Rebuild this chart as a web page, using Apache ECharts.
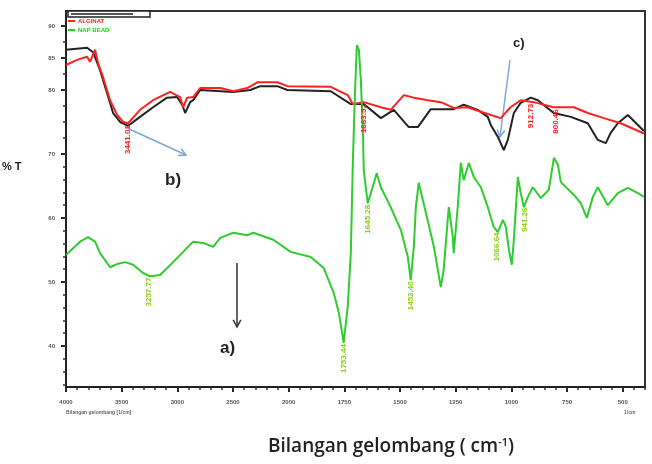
<!DOCTYPE html>
<html><head><meta charset="utf-8">
<script src="https://cdn.jsdelivr.net/npm/echarts@6/dist/echarts.min.js"></script>
<style>html,body{margin:0;padding:0;background:#fff}#c{width:652px;height:464px}</style>
</head><body><div id="c"></div>
<script>
// ---- data (wavenumber cm-1, %T) ----
const blackWave = [4000,3811,3757,3694,3631,3577,3514,3442,3335,3218,3092,3002,2957,2930,2885,2858,2795,2498,2345,2255,2102,2013,1811,1721,1663,1586,1528,1461,1420,1362,1259,1214,1151,1106,1092,1061,1034,1016,989,958,913,881,810,733,657,612,576,554,522,477,405];
const blackT    = [86.3,86.6,85.9,83.1,79.5,76.4,75.0,74.4,75.8,77.3,78.8,78.9,77.7,76.4,78.1,78.4,80.0,79.7,80.0,80.6,80.6,80.0,79.8,77.8,77.8,75.6,76.9,74.2,74.2,77.0,77.0,77.7,76.9,75.8,74.5,72.7,70.6,72.2,76.4,78.0,78.8,78.4,76.4,75.8,74.8,72.2,71.7,73.3,74.8,76.1,73.6];

const redWave = [4000,3901,3811,3784,3739,3712,3667,3604,3541,3487,3442,3335,3218,3065,2975,2948,2912,2858,2795,2615,2498,2372,2282,2102,2013,1811,1735,1712,1663,1586,1542,1483,1438,1375,1317,1259,1196,1137,1048,1004,958,900,810,720,657,585,509,405];
const redT    = [83.9,84.7,85.2,84.4,86.3,84.2,82.0,78.4,76.1,75.0,74.8,76.9,78.4,79.7,78.9,77.3,78.8,78.9,80.3,80.3,79.8,80.3,81.2,81.2,80.6,80.5,79.2,77.8,78.1,77.3,76.9,79.2,78.8,78.4,78.1,77.2,77.3,76.6,75.6,77.3,78.4,78.1,77.3,77.3,76.4,75.6,74.8,73.2];

const greenWave = [4000,3874,3802,3739,3694,3604,3541,3469,3397,3308,3245,3155,3038,2948,2858,2768,2678,2615,2498,2372,2318,2138,1991,1901,1843,1798,1775,1757,1753,1735,1721,1712,1703,1694,1685,1676,1667,1663,1645,1623,1605,1586,1542,1496,1465,1452,1438,1429,1416,1394,1348,1317,1304,1286,1281,1263,1259,1241,1227,1214,1191,1169,1137,1106,1079,1061,1038,1025,1011,998,989,971,958,944,926,904,868,832,809,791,778,719,688,661,634,612,567,522,477,432,405];
const greenT    = [54.2,56.3,57.0,56.3,54.5,52.3,52.8,53.1,52.7,51.4,50.9,51.1,53.1,54.7,56.3,56.1,55.5,56.9,57.7,57.3,57.7,56.6,54.7,53.9,52.2,48.3,45.2,41.4,40.5,46.1,54.5,68.6,78.9,87.0,86.3,81.6,73.8,67.5,62.3,64.8,67.0,64.8,61.7,58.1,53.9,50.3,55.5,61.7,65.5,62.3,55.5,49.2,51.9,59.7,61.7,57.0,54.5,61.7,68.6,65.9,68.6,66.4,64.8,61.7,58.6,57.8,59.7,58.6,55.0,52.7,56.6,66.4,63.9,61.7,63.3,64.8,63.1,64.4,69.4,68.3,65.6,63.6,62.3,60.0,63.3,64.8,62.0,63.9,64.7,63.9,63.3];

const redPeaks   = [3441.01, 1663.52, 912.73, 800.46];
const greenPeaks = [3257.77, 1753.44, 1645.28, 1452.40, 1066.64, 941.26];

const xTicks = [4000,3500,3000,2500,2000,1750,1500,1250,1000,750,500];
const yTicks = [40,50,60,70,80,85,90];
const seriesNames = ['ALGINAT', 'NAP BEAD'];

// ---- helpers ----
// instrument x scale: 500 cm-1 per division above 2000, 250 below
function toU(w){ return w >= 2000 ? (4000 - w) / 500 : 4 + (2000 - w) / 250; }
function interp(ws, ts, w){
  for (let i = 0; i < ws.length - 1; i++) {
    if (w <= ws[i] && w >= ws[i+1]) { const t = (ws[i] - w) / (ws[i] - ws[i+1]); return ts[i] + t * (ts[i+1] - ts[i]); }
  }
  return ts[ts.length - 1];
}
const pts = (ws, ts) => ws.map((w, i) => [toU(w), ts[i]]);
const xMinor = []; for (let u = 0; u <= 10.4001; u += 0.2) xMinor.push(+u.toFixed(2));
const yMinor = []; for (let v = 34; v <= 70; v += 2) yMinor.push(v); for (let v = 72.5; v <= 92; v += 2.5) yMinor.push(v);

function peakSeries(ws, ts, peaks, color){
  return {
    type: 'custom', coordinateSystem: 'cartesian2d', z: 4, silent: true,
    data: peaks.map(w => [toU(w), interp(ws, ts, w), w]),
    renderItem: (p, api) => {
      const c = api.coord([api.value(0), api.value(1)]);
      return { type: 'text', x: c[0], y: c[1] + 2, rotation: Math.PI / 2,
        style: { text: api.value(2).toFixed(2), fill: color, font: 'bold 8px "Liberation Sans"', align: 'right', verticalAlign: 'middle' } };
    }
  };
}
function arrow(x1, y1, x2, y2, color, w){
  const a = Math.atan2(y2 - y1, x2 - x1), L = 8, s = 0.5;
  const p1 = [x2 - L * Math.cos(a - s), y2 - L * Math.sin(a - s)];
  const p2 = [x2 - L * Math.cos(a + s), y2 - L * Math.sin(a + s)];
  return [
    { type: 'line', shape: { x1, y1, x2, y2 }, style: { stroke: color, lineWidth: w } },
    { type: 'polyline', shape: { points: [p1, [x2, y2], p2] }, style: { stroke: color, lineWidth: w, fill: null } }
  ];
}

const chart = echarts.init(document.getElementById('c'));
const tickFont = { fontSize: 6, color: '#555', fontWeight: 'bold', fontFamily: 'Liberation Sans' };
chart.setOption({
  animation: false,
  grid: { left: 66, right: 7, top: 11, bottom: 77, show: true, borderColor: '#333', borderWidth: 2, backgroundColor: 'transparent' },
  legend: {
    orient: 'vertical', left: 68, top: 18, itemWidth: 7, itemHeight: 2, itemGap: 3, icon: 'rect',
    padding: 0,
    data: [
      { name: seriesNames[0], textStyle: { color: '#ff2020' } },
      { name: seriesNames[1], textStyle: { color: '#22cc22' } }
    ],
    textStyle: { fontSize: 6, fontWeight: 'bold', fontFamily: 'Liberation Sans', padding: [0, 0, 0, -2] }
  },
  xAxis: [
    { type: 'value', min: 0, max: 10.4, position: 'bottom',
      axisLine: { lineStyle: { color: '#222', width: 2 } },
      axisTick: { customValues: xTicks.map(toU), length: 5, lineStyle: { color: '#222', width: 2 } },
      axisLabel: { customValues: xTicks.map(toU), formatter: v => { const i = xTicks.findIndex(t => Math.abs(toU(t) - v) < 1e-6); return i >= 0 ? String(xTicks[i]) : ''; }, margin: 12, ...tickFont },
      splitLine: { show: false } },
    { type: 'value', min: 0, max: 10.4, position: 'bottom',
      axisLine: { show: false },
      axisTick: { customValues: xMinor, length: 3, lineStyle: { color: '#333', width: 1.5 } },
      axisLabel: { show: false }, splitLine: { show: false } }
  ],
  yAxis: [
    { type: 'value', min: 33.59, max: 92.34, position: 'left',
      axisLine: { show: true, lineStyle: { color: '#222', width: 2 } },
      axisTick: { show: true, customValues: yTicks, length: 5, lineStyle: { color: '#222', width: 2 } },
      axisLabel: { customValues: yTicks, margin: 11, ...tickFont },
      splitLine: { show: false } },
    { type: 'value', min: 33.59, max: 92.34, position: 'left',
      axisLine: { show: false },
      axisTick: { show: true, customValues: yMinor, length: 3, lineStyle: { color: '#333', width: 1.5 } },
      axisLabel: { show: false }, splitLine: { show: false } }
  ],
  series: [
    { name: 'blank', type: 'line', data: pts(blackWave, blackT), showSymbol: false, lineStyle: { color: '#222', width: 2 }, itemStyle: { color: '#222' }, z: 2 },
    { name: seriesNames[0], type: 'line', data: pts(redWave, redT), showSymbol: false, lineStyle: { color: '#ff2020', width: 2 }, itemStyle: { color: '#ff2020' }, z: 3 },
    { name: seriesNames[1], type: 'line', data: pts(greenWave, greenT), showSymbol: false, lineStyle: { color: '#2fcc2f', width: 2 }, itemStyle: { color: '#2fcc2f' }, z: 3 },
    peakSeries(redWave, redT, redPeaks, '#ff2020'),
    peakSeries(greenWave, greenT, greenPeaks, '#8ccf1f')
  ],
  graphic: [
    { type: 'rect', shape: { x: 68, y: 11, width: 82, height: 6 }, style: { fill: '#fff', stroke: '#222', lineWidth: 1.5 } },
    { type: 'rect', shape: { x: 71, y: 13, width: 62, height: 2 }, style: { fill: '#555' } },
    { type: 'text', x: 2, y: 161, style: { text: '% T', font: 'bold 11px "Liberation Sans"', fill: '#222' } },
    { type: 'text', x: 165, y: 172, style: { text: 'b)', font: 'bold 17px "Liberation Sans"', fill: '#222' } },
    { type: 'text', x: 220, y: 340, style: { text: 'a)', font: 'bold 17px "Liberation Sans"', fill: '#222' } },
    { type: 'text', x: 513, y: 37, style: { text: 'c)', font: 'bold 13px "Liberation Sans"', fill: '#222' } },
    ...arrow(127, 128, 186, 155, '#7ea6d8', 1.5),
    ...arrow(237, 263, 237, 327, '#333', 1.5),
    ...arrow(510, 60, 500, 137, '#7ea6d8', 1.5),
    { type: 'text', x: 66, y: 410, style: { text: 'Bilangan gelombang [1/cm]', font: 'bold 5px "Liberation Sans"', fill: '#666' } },
    { type: 'text', x: 624, y: 410, style: { text: '1/cm', font: 'bold 5px "Liberation Sans"', fill: '#666' } },
    { type: 'text', x: 391, y: 447, style: { text: 'Bilangan gelombang ( cm{s|-1})', font: '600 19px "Open Sans"', fill: '#222', align: 'center', verticalAlign: 'middle',
        rich: { s: { fontSize: 11, fontFamily: 'Open Sans', fontWeight: 600, fill: '#222', padding: [0, 0, 9, 0] } } } }
  ]
});
</script></body></html>
